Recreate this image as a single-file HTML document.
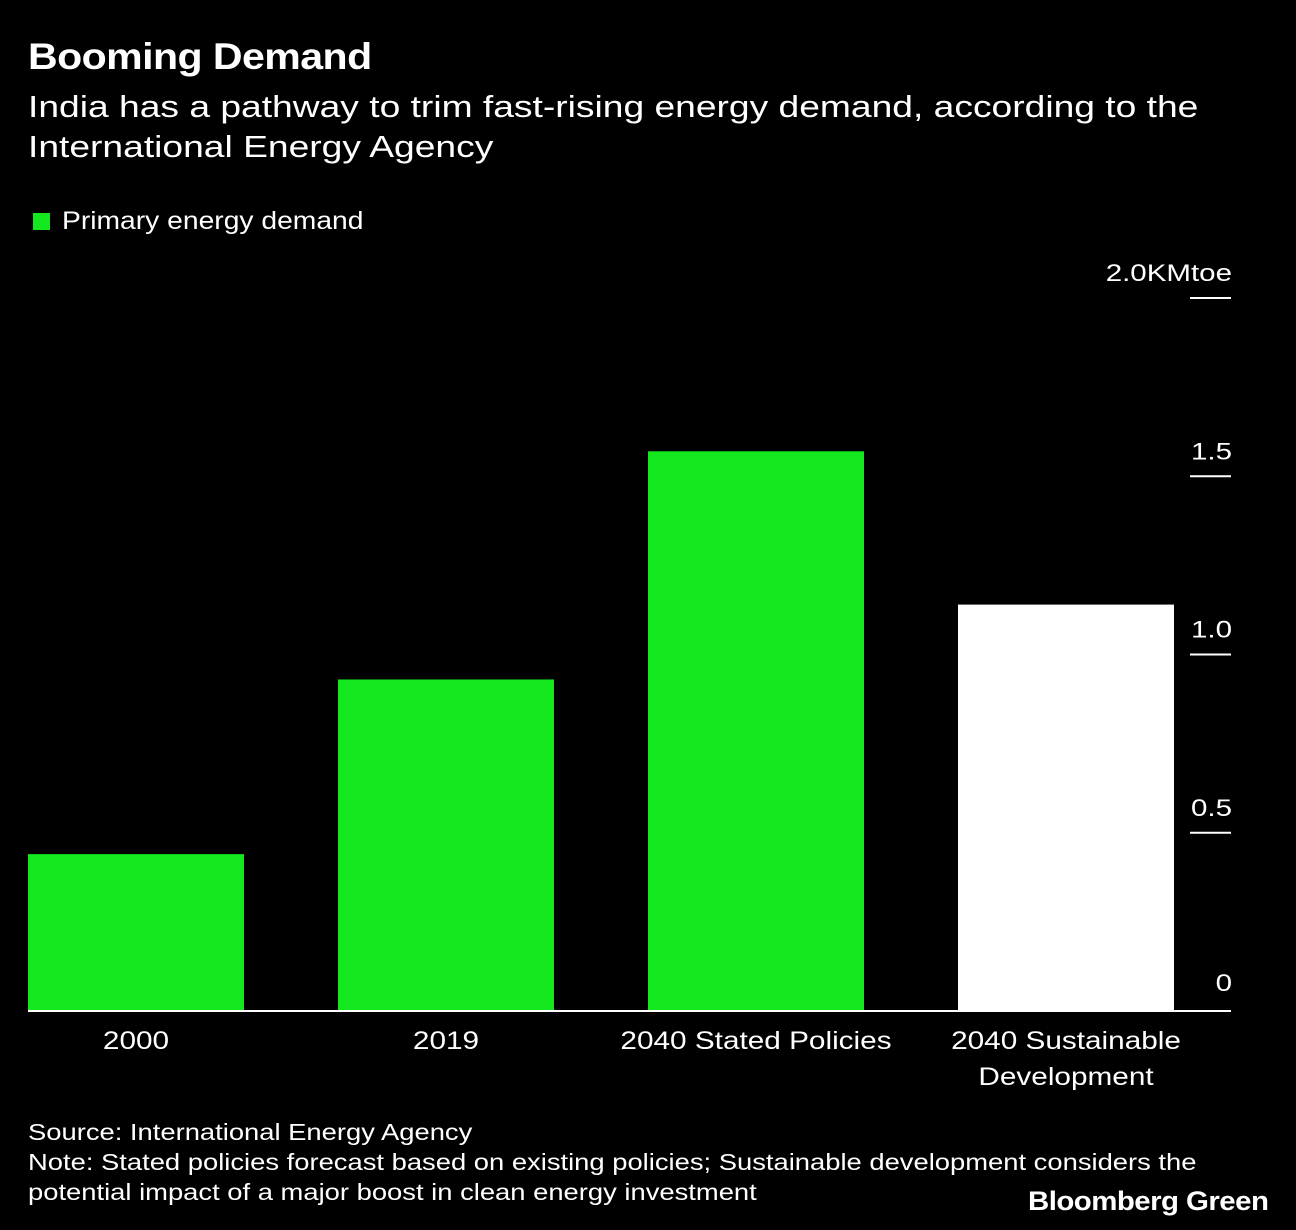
<!DOCTYPE html>
<html><head><meta charset="utf-8"><style>
body{margin:0;background:#000;width:1296px;height:1230px;overflow:hidden;font-family:"Liberation Sans",sans-serif;color:#fff}
.t{position:absolute;white-space:nowrap;transform-origin:0 0}
</style></head><body>
<div class="t" style="left:28px;top:36px;font-size:37px;font-weight:bold;letter-spacing:-0.5px;transform:scaleX(1.11)">Booming Demand</div>
<div class="t" style="left:28px;top:87px;font-size:31px;line-height:40px;transform:scaleX(1.2)">India has a pathway to trim fast-rising energy demand, according to the<br>International Energy Agency</div>
<div style="position:absolute;left:33px;top:213px;width:17px;height:17px;background:#13e81e"></div>
<div class="t" style="left:62px;top:207px;font-size:25px;transform:scaleX(1.13)">Primary energy demand</div>
<svg id="c" width="1296" height="1230" style="position:absolute;left:0;top:0"></svg>
<div class="t" style="left:28px;top:1117px;font-size:23px;line-height:30px;transform:scaleX(1.19)">Source: International Energy Agency<br>Note: Stated policies forecast based on existing policies; Sustainable development considers the<br>potential impact of a major boost in clean energy investment</div>
<div class="t" style="left:1028px;top:1186px;font-size:27px;font-weight:bold;letter-spacing:-0.5px;transform:scaleX(1.09)">Bloomberg Green</div>
<script>
const categories=["2000","2019","2040 Stated Policies","2040 Sustainable Development"];
const values=[0.44,0.93,1.57,1.14];
const colors=["#13e81e","#13e81e","#13e81e","#ffffff"];
const ticks=[0,0.5,1.0,1.5,2.0];
const tickLabels=["0","0.5","1.0","1.5","2.0KMtoe"];
const ns="http://www.w3.org/2000/svg";
const svg=document.getElementById('c');
const y0=1011,y2=298;
const y=v=>y0-(y0-y2)*v/2;
const x=i=>28+i*310;
const bw=216;
function mk(t,a){const e=document.createElementNS(ns,t);for(const k in a)e.setAttribute(k,a[k]);svg.appendChild(e);return e;}
ticks.forEach((v,i)=>{
  if(v>0){const l=mk('line',{x1:1190,x2:1231,y1:y(v),y2:y(v),stroke:'#fff','stroke-width':2});
  
  }
  const ty=y(v)-(v>0?17:20);
  const t=mk('text',{x:0,y:0,transform:'translate(1232,'+ty+') scale(1.23,1)','text-anchor':'end','font-size':24,fill:'#fff','font-family':'Liberation Sans'});
  t.textContent=tickLabels[i];
  
  
});
values.forEach((v,i)=>{
  const r=mk('rect',{x:x(i),y:y(v),width:bw,height:y0-y(v),fill:colors[i]});
  
  
  const words=categories[i]==="2040 Sustainable Development"?["2040 Sustainable","Development"]:[categories[i]];
  words.forEach((w,j)=>{
    const t=mk('text',{x:0,y:0,transform:'translate('+(x(i)+bw/2)+','+(1049+j*36)+') scale(1.19,1)','text-anchor':'middle','font-size':25,fill:'#fff','font-family':'Liberation Sans'});
    t.textContent=w;
    
    
  });
});
const ax=mk('line',{x1:28,x2:1231,y1:y0,y2:y0,stroke:'#fff','stroke-width':2});


</script>
</body></html>
